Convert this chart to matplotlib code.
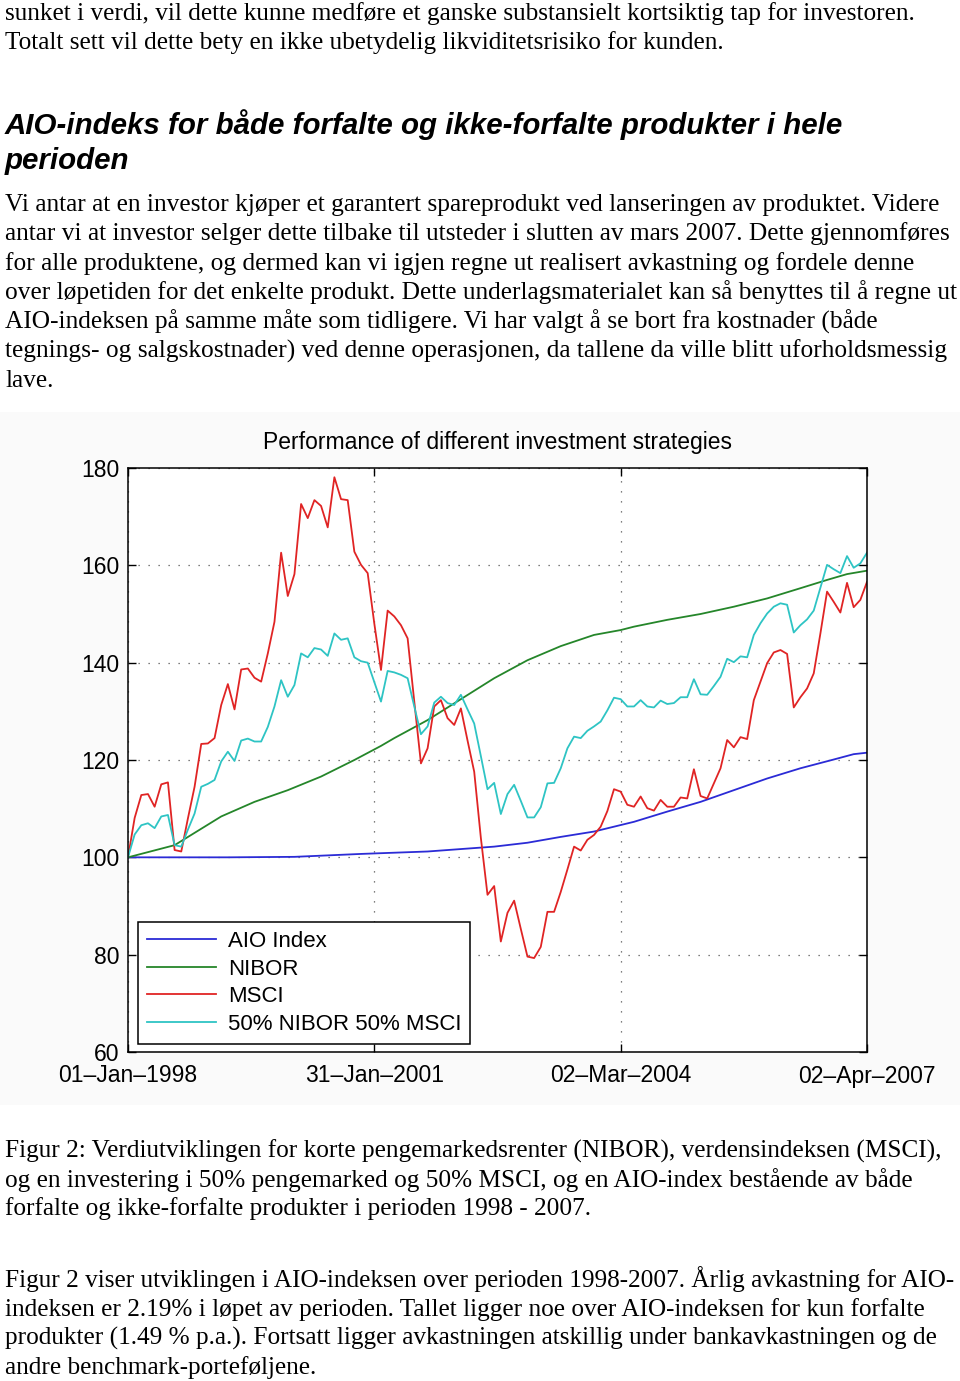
import numpy as np
import matplotlib.pyplot as plt
from matplotlib.patches import Rectangle

W, H = 960, 1381

# Monthly values, Jan 1998 .. Apr 2007 (index 100 at start)
msci = [100, 108.1, 112.8, 113, 110.4, 115, 115.4, 101.5, 101.2, 108,
        114.5, 123.3, 123.4, 124.5, 131.3, 135.6, 130.4, 138.6, 138.8, 136.9,
        136.1, 141.9, 148.4, 162.6, 153.7, 158.2, 172.6, 169.7, 173.4, 172.2,
        167.8, 178.1, 173.6, 173.4, 162.8, 160.1, 158.4, 148, 138.5, 150.7,
        149.5, 147.7, 145, 132, 119.3, 122.4, 131, 132.3, 128.6, 127.2,
        130.6, 124, 117.6, 104, 92.3, 94.1, 82.7, 88.6, 91.1, 85.3,
        79.6, 79.3, 81.6, 88.8, 88.8, 92.9, 97.5, 102.2, 101.4, 103.6,
        104.6, 106.3, 109.5, 114, 113.5, 110.8, 110.4, 112.5, 110.1, 109.6,
        111.8, 110.4, 110.4, 112.3, 112.1, 118.1, 112.6, 112.1, 115.2, 118.3,
        124.1, 122.6, 124.7, 124.3, 132.3, 136.1, 139.9, 142.1, 142.6, 141.8,
        130.8, 132.9, 134.7, 137.8, 146, 154.6, 152.5, 150.3, 156.4, 151.4,
        152.9, 156.6]
mix = [100, 104.7, 106.6, 107, 106, 108.4, 108.7, 102.5, 102.2, 105.7,
       109, 114.5, 115.1, 115.9, 119.7, 121.7, 119.8, 124, 124.4, 123.8,
       123.8, 126.8, 131, 136.4, 133, 135.4, 141.9, 141.1, 143, 142.7,
       141.4, 146, 144.7, 145, 141.1, 140.3, 140, 136, 132, 138.3,
       138, 137.5, 136.8, 131, 125.3, 126.9, 131.8, 133, 131.7, 131.3,
       133.4, 130.4, 127.5, 120.8, 114, 115.3, 108.9, 113, 114.9, 111.6,
       108.2, 108.2, 110.3, 115.2, 115.3, 118.3, 122.4, 124.8, 124.5, 126,
       126.9, 127.9, 130.2, 132.8, 132.5, 131, 131, 132.3, 131, 130.8,
       132.2, 131.5, 131.7, 132.9, 132.9, 136.6, 133.5, 133.4, 135.2, 137.1,
       140.8, 140.1, 141.3, 141.1, 145.7, 148.1, 150.1, 151.5, 152.2, 151.9,
       146.2, 147.7, 148.9, 150.7, 155.4, 160.1, 159.2, 158.4, 161.9, 159.5,
       160.4, 162.6]
nibor_month = [0, 7, 14, 19, 24, 29, 34, 38, 40, 45, 50, 55, 60, 65, 70,
               74, 76, 81, 86, 91, 96, 101, 105, 108, 111]
nibor = [100, 102.5, 108.4, 111.4, 113.8, 116.6, 120, 122.9, 124.5, 128.2,
         132.5, 136.8, 140.5, 143.4, 145.7, 146.7, 147.4, 148.8, 150, 151.5,
         153.2, 155.3, 157, 158.2, 158.9]
aio_month = [0, 15, 25, 35, 45, 55, 60, 65, 70, 76, 81, 86, 91, 96, 101,
             106, 109, 111]
aio = [100, 100, 100.1, 100.7, 101.2, 102.2, 103, 104.2, 105.3, 107.3,
       109.4, 111.4, 113.8, 116.2, 118.3, 120.1, 121.2, 121.5]

xtick_pos = [0, 37, 74, 111]
xtick_lab = ['01\u2013Jan\u20131998', '31\u2013Jan\u20132001',
             '02\u2013Mar\u20132004', '02\u2013Apr\u20132007']

top_lines = [
    "sunket i verdi, vil dette kunne medføre et ganske substansielt kortsiktig tap for investoren.",
    "Totalt sett vil dette bety en ikke ubetydelig likviditetsrisiko for kunden.",
]
heading = ["AIO-indeks for både forfalte og ikke-forfalte produkter i hele", "perioden"]
para = [
    "Vi antar at en investor kjøper et garantert spareprodukt ved lanseringen av produktet. Videre",
    "antar vi at investor selger dette tilbake til utsteder i slutten av mars 2007. Dette gjennomføres",
    "for alle produktene, og dermed kan vi igjen regne ut realisert avkastning og fordele denne",
    "over løpetiden for det enkelte produkt. Dette underlagsmaterialet kan så benyttes til å regne ut",
    "AIO-indeksen på samme måte som tidligere. Vi har valgt å se bort fra kostnader (både",
    "tegnings- og salgskostnader) ved denne operasjonen, da tallene da ville blitt uforholdsmessig",
    "lave.",
]
caption = [
    "Figur 2: Verdiutviklingen for korte pengemarkedsrenter (NIBOR), verdensindeksen (MSCI),",
    "og en investering i 50% pengemarked og 50% MSCI, og en AIO-index bestående av både",
    "forfalte og ikke-forfalte produkter i perioden 1998 - 2007.",
]
final = [
    "Figur 2 viser utviklingen i AIO-indeksen over perioden 1998-2007. Årlig avkastning for AIO-",
    "indeksen er 2.19% i løpet av perioden. Tallet ligger noe over AIO-indeksen for kun forfalte",
    "produkter (1.49 % p.a.). Fortsatt ligger avkastningen atskillig under bankavkastningen og de",
    "andre benchmark-porteføljene.",
]

fig = plt.figure(figsize=(W / 100, H / 100), dpi=100)
renderer = fig.canvas.get_renderer()

# faint backdrop of the embedded chart picture
fig.patches.append(Rectangle((0, 1 - 1105 / H), 1, 693 / H, transform=fig.transFigure,
                             facecolor='#fafafa', edgecolor='none', zorder=-10))


def fit_size(s, target, **kw):
    t = fig.text(0, 0, s, fontsize=20, **kw)
    w = t.get_window_extent(renderer).width
    t.remove()
    return 20 * target / w


def put_lines(lines, y0, step, target, **kw):
    size = fit_size(lines[0], target, **kw)
    for i, s in enumerate(lines):
        fig.text(5 / W, 1 - (y0 + i * step) / H, s, fontsize=size,
                 ha='left', va='baseline', **kw)


serif = dict(family='Liberation Serif')
put_lines(top_lines, 20, 29, 910, **serif)
put_lines(heading, 134, 35, 838, family='Liberation Sans', weight='bold', style='italic')
put_lines(para, 211, 29.3, 935, **serif)
put_lines(caption, 1158, 28.7, 938, **serif)
put_lines(final, 1287, 29, 952, **serif)

# chart
sans = 'Liberation Sans'
ax = fig.add_axes([128 / W, 1 - 1052 / H, (867 - 128) / W, (1052 - 468) / H])
ax.set_zorder(1)
ax.set_facecolor('white')
ax.plot(aio_month, aio, color='#2b2bd6', lw=1.3, label='AIO Index')
ax.plot(nibor_month, nibor, color='#25862a', lw=1.3, label='NIBOR')
ax.plot(np.arange(len(msci)), msci, color='#e02424', lw=1.3, label='MSCI')
ax.plot(np.arange(len(mix)), mix, color='#2ec4c4', lw=1.3, label='50% NIBOR 50% MSCI')

ax.set_xlim(0, 111)
ax.set_ylim(60, 180)
ax.set_yticks(range(60, 181, 20))
ax.set_xticks(xtick_pos)
ax.set_xticklabels(xtick_lab)
ax.grid(True, linestyle=(0, (1, 7)), color='#555555', linewidth=0.9)
ax.tick_params(direction='in', top=True, right=True, length=6, width=1,
               labelsize=16.5, pad=6)
ax.tick_params(axis='x', pad=9)
for lab in ax.get_xticklabels() + ax.get_yticklabels():
    lab.set_family(sans)
for sp in ax.spines.values():
    sp.set_linewidth(1.1)

ax.set_title('Performance of different investment strategies', family=sans,
             fontsize=16.5, pad=14)

leg = ax.legend(loc='upper left', bbox_to_anchor=(138 / W, 1 - 922 / H),
                bbox_transform=fig.transFigure, borderaxespad=0,
                prop={'family': sans, 'size': 16}, fancybox=False,
                edgecolor='black', framealpha=1, handlelength=3.1,
                handletextpad=0.55, labelspacing=0.3, borderpad=0.4)
leg.get_frame().set_linewidth(1.1)

fig.savefig('out.png', dpi=100)
